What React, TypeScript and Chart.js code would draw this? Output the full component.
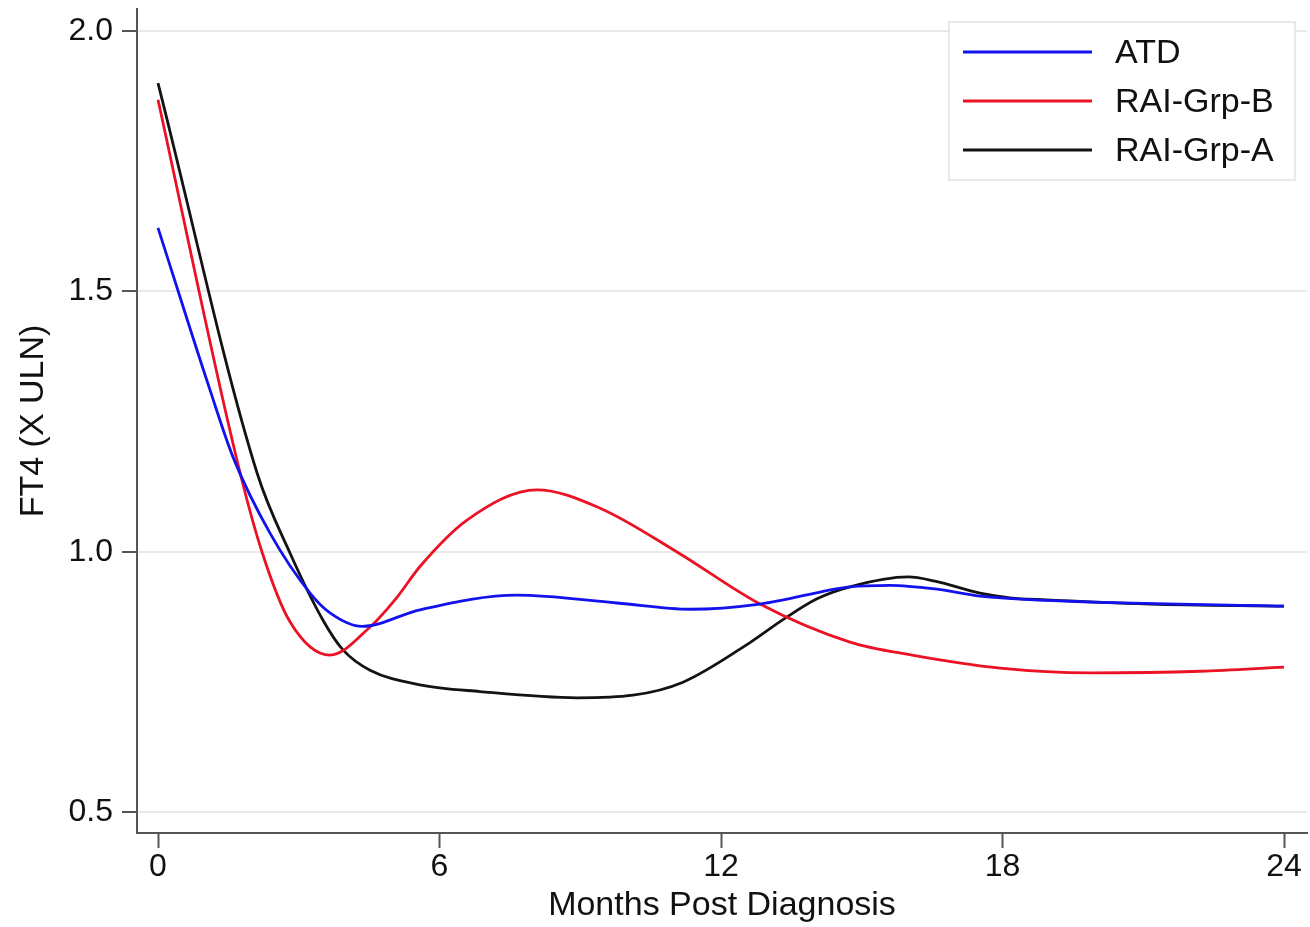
import React, { useEffect, useRef } from "react";
import { Chart, registerables } from "chart.js";

Chart.register(...registerables);

const FONT = "'Liberation Sans', Arial, Helvetica, sans-serif";

const xTickValues = [0, 6, 12, 18, 24];
const yTickValues = [0.5, 1.0, 1.5, 2.0];

const seriesLabels = ["ATD", "RAI-Grp-B", "RAI-Grp-A"];
const seriesColors = ["#1212ee", "#ea1224", "#131313"];

const atdMonths = [0, 1.108, 1.599, 2.387, 3.24, 3.666, 4.35, 5.584, 7.652, 9.783, 11.339, 12.831, 14.749, 15.602, 16.56, 17.52, 18.927, 24];
const atdValues = [1.622, 1.311, 1.182, 1.036, 0.921, 0.883, 0.857, 0.889, 0.917, 0.902, 0.89, 0.9, 0.933, 0.936, 0.929, 0.915, 0.907, 0.896];

const grpBMonths = [0, 1.684, 2.217, 2.813, 3.666, 4.519, 5.094, 5.584, 6.586, 8.078, 9.421, 11.062, 12.831, 14.749, 16.071, 17.946, 19.886, 22.209, 24];
const grpBValues = [1.868, 1.176, 1.0, 0.866, 0.802, 0.856, 0.913, 0.972, 1.061, 1.119, 1.084, 1.0, 0.9, 0.827, 0.802, 0.777, 0.768, 0.771, 0.779];

const grpAMonths = [0, 2.11, 2.813, 3.517, 3.943, 4.519, 5.584, 6.863, 8.931, 10.124, 11.19, 12.618, 13.321, 14.046, 14.749, 15.985, 16.56, 17.52, 18.16, 18.927, 21.14, 24];
const grpAValues = [1.9, 1.152, 0.998, 0.869, 0.812, 0.773, 0.745, 0.732, 0.72, 0.725, 0.75, 0.826, 0.87, 0.91, 0.933, 0.952, 0.944, 0.921, 0.912, 0.908, 0.9, 0.896];

const seriesMonths = [atdMonths, grpBMonths, grpAMonths];
const seriesValues = [atdValues, grpBValues, grpAValues];

const insideLegend = {
  id: "insideLegend",
  afterDraw(chart: any) {
    const { ctx, chartArea } = chart;
    const boxW = 346;
    const boxH = 158;
    const left = chartArea.right - 12 - boxW;
    const top = chartArea.top + 13;
    ctx.save();
    ctx.fillStyle = "#ffffff";
    ctx.fillRect(left, top, boxW, boxH);
    ctx.strokeStyle = "#e2e2e2";
    ctx.lineWidth = 1.5;
    ctx.strokeRect(left, top, boxW, boxH);
    chart.data.datasets.forEach((ds: any, i: number) => {
      const y = top + 30 + i * 49;
      ctx.strokeStyle = ds.borderColor;
      ctx.lineWidth = 3;
      ctx.beginPath();
      ctx.moveTo(left + 14, y);
      ctx.lineTo(left + 143, y);
      ctx.stroke();
      ctx.fillStyle = "#111111";
      ctx.font = `34px ${FONT}`;
      ctx.textAlign = "left";
      ctx.textBaseline = "middle";
      ctx.fillText(ds.label, left + 166, y + 2);
    });
    ctx.restore();
  },
};

export default function App() {
  const canvasRef = useRef<HTMLCanvasElement | null>(null);

  useEffect(() => {
    if (!canvasRef.current) return;
    Chart.defaults.font.family = FONT;
    const datasets = seriesLabels.map((label, i) => ({
      label,
      data: seriesMonths[i].map((m, j) => ({ x: m, y: seriesValues[i][j] })),
      borderColor: seriesColors[i],
      backgroundColor: seriesColors[i],
      borderWidth: 2.8,
      pointRadius: 0,
      fill: false,
      cubicInterpolationMode: "monotone" as const,
    }));

    const chart = new Chart(canvasRef.current, {
      type: "line",
      data: { datasets },
      plugins: [insideLegend],
      options: {
        animation: false,
        responsive: false,
        devicePixelRatio: 1,
        layout: { padding: { top: 9, right: 3, left: 0, bottom: 0 } },
        plugins: {
          legend: { display: false },
          tooltip: { enabled: false },
        },
        scales: {
          x: {
            type: "linear",
            min: -0.4476,
            max: 24.49,
            afterBuildTicks: (scale: any) => {
              scale.ticks = xTickValues.map((v) => ({ value: v }));
            },
            afterFit: (scale: any) => {
              scale.height = 94;
              scale.paddingLeft = 0;
              scale.paddingRight = 0;
            },
            ticks: {
              color: "#111111",
              font: { size: 32 },
              padding: 0,
              maxRotation: 0,
              autoSkip: false,
              callback: (v: any) => String(v),
            },
            grid: {
              drawOnChartArea: false,
              drawTicks: true,
              tickLength: 15,
              tickColor: "#555555",
              tickWidth: 2,
            },
            border: { display: true, color: "#555555", width: 2 },
            title: {
              display: true,
              text: "Months Post Diagnosis",
              color: "#111111",
              font: { size: 34 },
              padding: { top: 0, bottom: 1 },
            },
          },
          y: {
            type: "linear",
            min: 0.4605,
            max: 2.0422,
            afterBuildTicks: (scale: any) => {
              scale.ticks = yTickValues.map((v) => ({ value: v }));
            },
            afterFit: (scale: any) => {
              scale.width = 137;
              scale.paddingTop = 0;
              scale.paddingBottom = 0;
            },
            ticks: {
              color: "#111111",
              font: { size: 32 },
              padding: 9,
              autoSkip: false,
              callback: (v: any) => Number(v).toFixed(1),
            },
            grid: {
              drawOnChartArea: true,
              color: "#e9e9e9",
              lineWidth: 2,
              drawTicks: true,
              tickLength: 15,
              tickColor: "#555555",
              tickWidth: 2,
            },
            border: { display: true, color: "#555555", width: 2 },
            title: {
              display: true,
              text: "FT4 (X ULN)",
              color: "#111111",
              font: { size: 34 },
              padding: { top: 13, bottom: 0 },
            },
          },
        },
      },
    });
    return () => chart.destroy();
  }, []);

  return (
    <div style={{ position: "absolute", left: 0, top: 0, width: 1310, height: 927, background: "#ffffff" }}>
      <canvas ref={canvasRef} width={1310} height={927} style={{ display: "block", width: 1310, height: 927 }} />
    </div>
  );
}
